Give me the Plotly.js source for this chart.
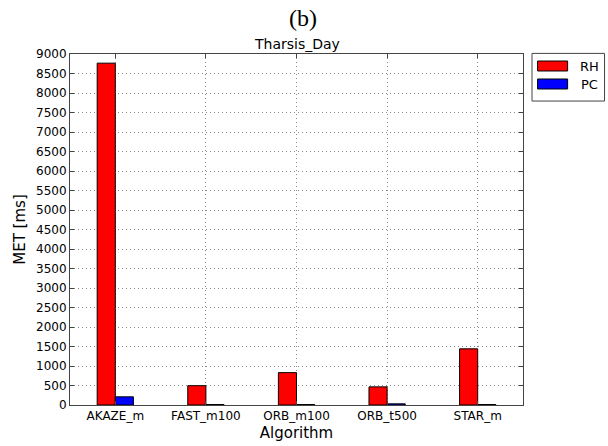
<!DOCTYPE html>
<html>
<head>
<meta charset="utf-8">
<script src="https://cdn.plot.ly/plotly-3.0.1.min.js"></script>
<style>html,body{margin:0;padding:0;background:#fff;}#chart{width:608px;height:446px;}</style>
</head>
<body>
<div id="chart"></div>
<script>
const categories = ["AKAZE_m", "FAST_m100", "ORB_m100", "ORB_t500", "STAR_m"];
const rhValues = [8765, 495, 830, 465, 1440];
const pcValues = [210, 12, 12, 30, 12];
const yTicks = [0,500,1000,1500,2000,2500,3000,3500,4000,4500,5000,5500,6000,6500,7000,7500,8000,8500,9000];

const font = "DejaVu Sans, sans-serif";
const traces = [
  {type: "bar", name: "RH", x: categories, y: rhValues,
   marker: {color: "#ff0000", line: {color: "#000", width: 1}}},
  {type: "bar", name: "PC", x: categories, y: pcValues,
   marker: {color: "#0000ff", line: {color: "#000", width: 1}}}
];

const layout = {
  width: 608, height: 446,
  margin: {l: 70, r: 85, t: 54, b: 41},
  paper_bgcolor: "#fff", plot_bgcolor: "#fff",
  barmode: "group", bargap: 0.6, bargroupgap: 0,
  showlegend: false,
  font: {family: font, color: "#000", size: 12},
  xaxis: {
    type: "category", range: [-0.5, 4.5],
    showline: true, linecolor: "#444", linewidth: 1, mirror: "ticks",
    ticks: "inside", ticklen: 4, tickcolor: "#444",
    showgrid: true, gridcolor: "#888", griddash: "1px,3px", gridwidth: 1,
    tickfont: {family: font, size: 12, color: "#000"},
    title: {text: "Algorithm", font: {family: font, size: 15, color: "#000"}, standoff: 5},
    zeroline: false
  },
  yaxis: {
    range: [0, 9000], tickvals: yTicks, ticktext: yTicks.map(String),
    showline: true, linecolor: "#444", linewidth: 1, mirror: "ticks",
    ticks: "inside", ticklen: 4, tickcolor: "#444",
    showgrid: true, gridcolor: "#888", griddash: "1px,3px", gridwidth: 1,
    tickfont: {family: font, size: 12, color: "#000"},
    title: {text: "MET [ms]", font: {family: font, size: 15, color: "#000"}, standoff: 6},
    zeroline: false
  },
  annotations: [
    {text: "(b)", xref: "paper", yref: "paper", x: 0.515, y: 1.0, yshift: 36, showarrow: false,
     font: {family: "Liberation Serif, serif", size: 24, color: "#000"}, yanchor: "middle"},
    {text: "Tharsis_Day", xref: "paper", yref: "paper", x: 0.5, y: 1.0, yshift: 10, showarrow: false,
     font: {family: font, size: 14, color: "#000"}, yanchor: "middle"},
    {text: "RH", xref: "paper", yref: "paper", x: 1.1457, y: 0.9658, showarrow: false,
     xanchor: "center", yanchor: "middle", font: {family: font, size: 13, color: "#000"}},
    {text: "PC", xref: "paper", yref: "paper", x: 1.1457, y: 0.9145, showarrow: false,
     xanchor: "center", yanchor: "middle", font: {family: font, size: 13, color: "#000"}}
  ],
  shapes: [
    {type: "rect", xref: "paper", yref: "paper", x0: 1.0199, x1: 1.18, y0: 0.866, y1: 1.0017,
     line: {color: "#444", width: 1}, fillcolor: "#fff"},
    {type: "rect", xref: "paper", yref: "paper", x0: 1.0322, x1: 1.0985, y0: 0.9516, y1: 0.980,
     line: {color: "#000", width: 1}, fillcolor: "#ff0000"},
    {type: "rect", xref: "paper", yref: "paper", x0: 1.0322, x1: 1.0985, y0: 0.9003, y1: 0.9288,
     line: {color: "#000", width: 1}, fillcolor: "#0000ff"}
  ]
};

Plotly.newPlot("chart", traces, layout, {displayModeBar: false, staticPlot: true});
</script>
</body>
</html>
